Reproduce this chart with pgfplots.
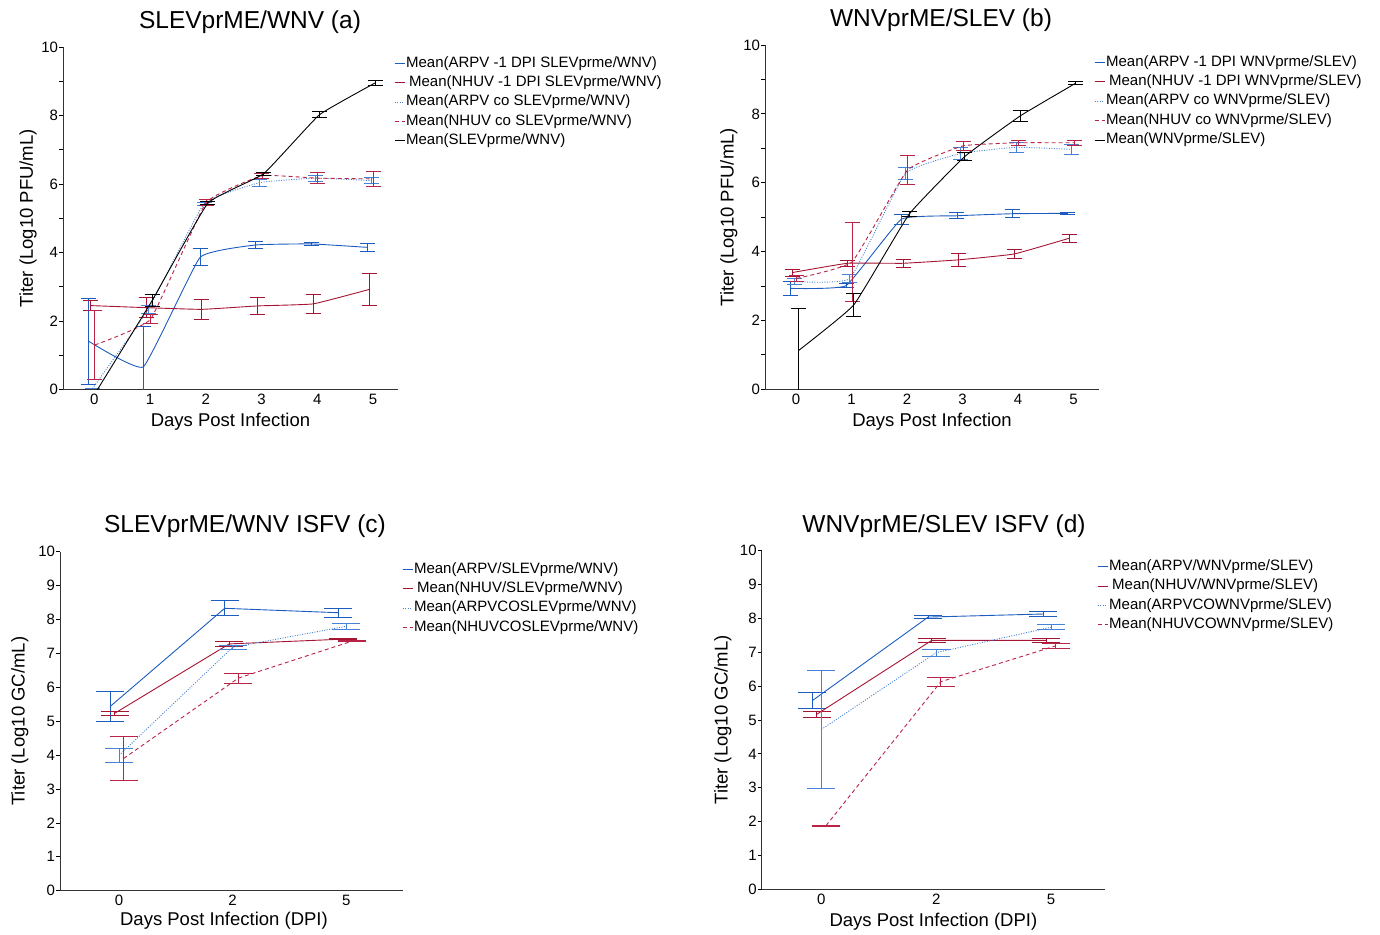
\documentclass[border=0pt]{standalone}
\usepackage{fontspec}
\setmainfont{Liberation Sans}
\usepackage{pgfplots}
\pgfplotsset{compat=1.18}
\definecolor{cblue}{RGB}{28,92,190}
\definecolor{cred}{RGB}{165,20,50}
\definecolor{cblue2}{RGB}{70,130,215}
\definecolor{cred2}{RGB}{185,35,70}
\pgfplotsset{
 panel/.style={
  scale only axis, axis x line*=bottom, axis y line*=left,
  ymin=0, ymax=10, ytick={0,...,10},
  tick align=outside, major tick length=4pt,
  tick style={black, line width=0.8pt},
  xtick style={draw=none},
  axis line style={line width=0.8pt, black!80},
  every tick label/.append style={font=\fontsize{15}{15}\selectfont},
  xticklabel style={yshift=3pt},
  yticklabel style={xshift=2.5pt},
  /pgf/number format/assume math mode=true,
  label style={font=\fontsize{18.5}{18.5}\selectfont},
  every axis plot/.append style={line width=0.9pt},
  legend cell align=left,
  legend image code/.code={\draw[##1, line width=0.9pt] (0pt,0pt) -- (10pt,0pt);},
  legend style={draw=none, fill=none, anchor=north west, font=\fontsize{15}{15}\selectfont, inner sep=0pt, row sep=4.9pt, column sep=1pt, nodes={inner sep=0pt, text height=11pt, text depth=3.5pt}},
 },
 eb/.style={error bars/y dir=both, error bars/y explicit,
  error bars/error bar style={solid, line width=0.9pt},
  error bars/error mark options={rotate=90, mark size=#1, solid, line width=0.9pt}},
 sdot/.style={dash pattern=on 1pt off 1.5pt},
 sdash/.style={dash pattern=on 4pt off 3pt},
}
\begin{document}
\begin{tikzpicture}
\useasboundingbox (0pt,0pt) rectangle (1380pt,934pt);
\node[anchor=base, font=\fontsize{24.5}{24.5}\selectfont] at (250pt,905pt) {SLEVprME/WNV (a)};
\node[anchor=base, font=\fontsize{24.5}{24.5}\selectfont] at (941pt,907pt) {WNVprME/SLEV (b)};
\node[anchor=base, font=\fontsize{24.5}{24.5}\selectfont] at (245pt,401pt) {SLEVprME/WNV ISFV (c)};
\node[anchor=base, font=\fontsize{24.5}{24.5}\selectfont] at (944pt,401pt) {WNVprME/SLEV ISFV (d)};

% ---------- (a)
\begin{axis}[panel, at={(63pt,544.5pt)}, anchor=south west, width=335pt, height=342.5pt,
 xmin=-0.56, xmax=5.45, xtick={0,...,5}, yticklabels={0,,2,,4,,6,,8,,10},
 xlabel={Days Post Infection}, ylabel={Titer (Log10 PFU/mL)},
 xlabel style={at={(axis description cs:0.5,-0.095)}, anchor=center},
 ylabel style={at={(axis description cs:-0.104,0.5)}, anchor=center},
 legend style={at={(axis description cs:0.988,0.974)}}]
\addplot[cblue, smooth, tension=0.2, eb=7.5pt] table[x index=0,y index=1,y error index=2]{
-0.10 1.41 1.25
0.88 0.66 1.17
1.90 3.86 0.25
2.90 4.22 0.09
3.90 4.25 0.05
4.90 4.15 0.12
};
\addlegendentry{Mean(ARPV -1 DPI SLEVprme/WNV)}
\addplot[cred, smooth, tension=0.2, eb=7.5pt] table[x index=0,y index=1,y error index=2]{
-0.07 2.45 0.15
0.93 2.39 0.29
1.93 2.34 0.30
2.93 2.44 0.25
3.93 2.50 0.28
4.93 2.92 0.46
};
\addlegendentry{\hspace{3pt}Mean(NHUV -1 DPI SLEVprme/WNV)}
\addplot[cblue2, sdot, smooth, tension=0.2, eb=7.5pt] table[x index=0,y index=1,y error index=2]{
-0.03 0.03 0.00
0.97 2.34 0.11
1.97 5.42 0.05
2.97 6.04 0.10
3.97 6.17 0.09
4.97 6.10 0.09
};
\addlegendentry{Mean(ARPV co SLEVprme/WNV)}
\addplot[cred2, sdash, smooth, tension=0.2, eb=7.5pt] table[x index=0,y index=1,y error index=2]{
0.01 1.30 1.00
1.01 2.05 0.13
2.01 5.46 0.10
3.01 6.24 0.07
4.01 6.17 0.16
5.01 6.15 0.23
};
\addlegendentry{Mean(NHUV co SLEVprme/WNV)}
\addplot[black, smooth, tension=0.2, eb=7.5pt] table[x index=0,y index=1,y error index=2]{
0.04 -0.05 0.00
1.04 2.60 0.18
2.04 5.44 0.05
3.04 6.30 0.04
4.04 8.02 0.09
5.04 8.95 0.07
};
\addlegendentry{Mean(SLEVprme/WNV)}
\end{axis}

% ---------- (b)
\begin{axis}[panel, at={(765pt,544.7pt)}, anchor=south west, width=334pt, height=344.3pt,
 xmin=-0.56, xmax=5.46, xtick={0,...,5}, yticklabels={0,,2,,4,,6,,8,,10},
 xlabel={Days Post Infection}, ylabel={Titer (Log10 PFU/mL)},
 xlabel style={at={(axis description cs:0.5,-0.095)}, anchor=center},
 ylabel style={at={(axis description cs:-0.108,0.5)}, anchor=center},
 legend style={at={(axis description cs:0.985,0.971)}}]
\addplot[cblue, smooth, tension=0.2, eb=7.5pt] table[x index=0,y index=1,y error index=2]{
-0.10 2.93 0.21
0.90 3.01 0.05
1.90 4.94 0.15
2.90 5.04 0.09
3.90 5.10 0.11
4.90 5.11 0.03
};
\addlegendentry{Mean(ARPV -1 DPI WNVprme/SLEV)}
\addplot[cred, smooth, tension=0.2, eb=7.5pt] table[x index=0,y index=1,y error index=2]{
-0.07 3.39 0.10
0.93 3.66 0.09
1.93 3.66 0.11
2.93 3.76 0.18
3.93 3.93 0.13
4.93 4.39 0.12
};
\addlegendentry{\hspace{3pt}Mean(NHUV -1 DPI WNVprme/SLEV)}
\addplot[cblue2, sdot, smooth, tension=0.2, eb=7.5pt] table[x index=0,y index=1,y error index=2]{
-0.03 3.13 0.08
0.97 3.22 0.12
1.97 6.27 0.18
2.97 6.85 0.17
3.97 7.03 0.15
4.97 6.97 0.14
};
\addlegendentry{Mean(ARPV co WNVprme/SLEV)}
\addplot[cred2, sdash, smooth, tension=0.2, eb=7.5pt] table[x index=0,y index=1,y error index=2]{
0.01 3.22 0.08
1.01 3.70 1.16
2.01 6.37 0.41
3.01 7.07 0.13
4.01 7.16 0.07
5.01 7.16 0.08
};
\addlegendentry{Mean(NHUV co WNVprme/SLEV)}
\addplot[black, smooth, tension=0.2, eb=7.5pt] table[x index=0,y index=1,y error index=2]{
0.04 1.12 1.23
1.04 2.45 0.33
2.04 5.09 0.08
3.04 6.76 0.11
4.04 7.94 0.15
5.04 8.89 0.05
};
\addlegendentry{Mean(WNVprme/SLEV)}
\end{axis}

% ---------- (c)
\begin{axis}[panel, at={(60pt,43.3pt)}, anchor=south west, width=343pt, height=339pt,
 xmin=-0.52, xmax=2.50, xtick={0,1,2}, xticklabels={0,2,5},
 xlabel={Days Post Infection (DPI)}, ylabel={Titer (Log10 GC/mL)},
 xlabel style={at={(axis description cs:0.478,-0.089)}, anchor=center},
 ylabel style={at={(axis description cs:-0.117,0.5)}, anchor=center},
 legend style={at={(axis description cs:0.997,0.970)}}]
\addplot[cblue, eb=14pt] table[x index=0,y index=1,y error index=2]{
-0.08 5.43 0.44
0.93 8.33 0.22
1.93 8.20 0.13
};
\addlegendentry{Mean(ARPV/SLEVprme/WNV)}
\addplot[cred, eb=14pt] table[x index=0,y index=1,y error index=2]{
-0.04 5.23 0.07
0.97 7.28 0.07
1.97 7.42 0.02
};
\addlegendentry{\hspace{3pt}Mean(NHUV/SLEVprme/WNV)}
\addplot[cblue2, sdot, eb=14pt] table[x index=0,y index=1,y error index=2]{
0.00 3.99 0.22
1.00 7.18 0.06
2.00 7.80 0.09
};
\addlegendentry{Mean(ARPVCOSLEVprme/WNV)}
\addplot[cred2, sdash, eb=14pt] table[x index=0,y index=1,y error index=2]{
0.04 3.90 0.64
1.05 6.27 0.15
2.05 7.36 0.02
};
\addlegendentry{Mean(NHUVCOSLEVprme/WNV)}
\end{axis}

% ---------- (d)
\begin{axis}[panel, at={(761.7pt,44.7pt)}, anchor=south west, width=343.3pt, height=338.6pt,
 xmin=-0.52, xmax=2.47, xtick={0,1,2}, xticklabels={0,2,5},
 xlabel={Days Post Infection (DPI)}, ylabel={Titer (Log10 GC/mL)},
 xlabel style={at={(axis description cs:0.5,-0.097)}, anchor=center},
 ylabel style={at={(axis description cs:-0.113,0.5)}, anchor=center},
 legend style={at={(axis description cs:0.977,0.975)}}]
\addplot[cblue, eb=14pt] table[x index=0,y index=1,y error index=2]{
-0.08 5.57 0.24
0.93 8.04 0.04
1.93 8.13 0.08
};
\addlegendentry{Mean(ARPV/WNVprme/SLEV)}
\addplot[cred, eb=14pt] table[x index=0,y index=1,y error index=2]{
-0.04 5.17 0.08
0.96 7.35 0.05
1.96 7.35 0.06
};
\addlegendentry{\hspace{3pt}Mean(NHUV/WNVprme/SLEV)}
\addplot[cblue2, sdot, eb=14pt] table[x index=0,y index=1,y error index=2]{
0.00 4.72 1.75
1.00 6.99 0.10
2.00 7.74 0.08
};
\addlegendentry{Mean(ARPVCOWNVprme/SLEV)}
\addplot[cred2, sdash, eb=14pt] table[x index=0,y index=1,y error index=2]{
0.04 1.88 0.01
1.04 6.13 0.14
2.04 7.19 0.07
};
\addlegendentry{Mean(NHUVCOWNVprme/SLEV)}
\end{axis}
\end{tikzpicture}
\end{document}
